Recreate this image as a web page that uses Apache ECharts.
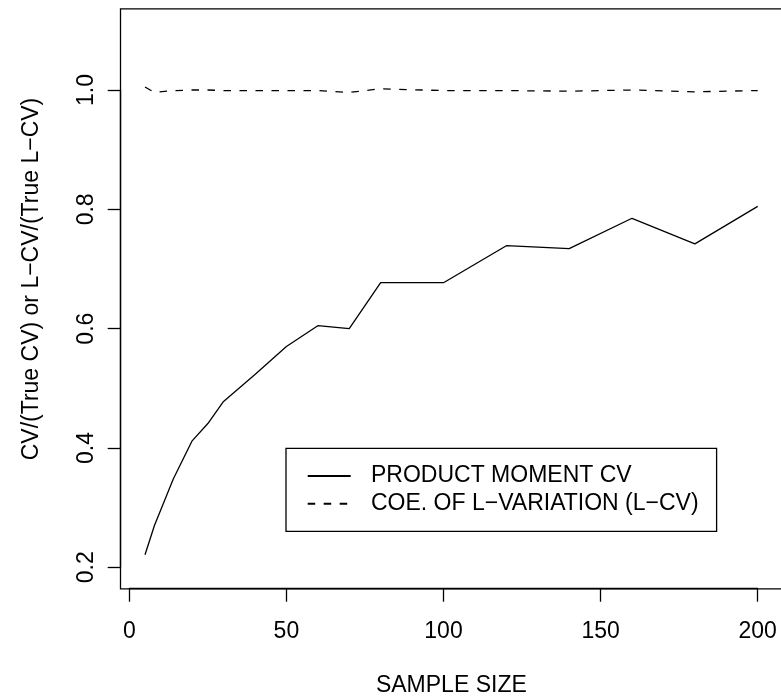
<!DOCTYPE html>
<html>
<head>
<meta charset="utf-8">
<script src="https://cdn.jsdelivr.net/npm/echarts@6/dist/echarts.min.js"></script>
<style>
  html, body { margin: 0; padding: 0; background: #ffffff; }
  #chart { width: 781px; height: 696px; }
</style>
</head>
<body>
<div id="chart"></div>
<script>
// Sample sizes used in the simulation
const sampleSize = [5, 8, 14, 20, 25, 30, 40, 50, 60, 70, 80, 100, 120, 140, 160, 180, 200];
// Mean sample CV divided by the true CV
const productMomentCV = [0.221, 0.270, 0.348, 0.412, 0.441, 0.478, 0.523, 0.570, 0.605, 0.600, 0.677, 0.677, 0.739, 0.734, 0.785, 0.742, 0.805];
// Mean sample L-CV divided by the true L-CV
const lcvRatio = [1.005, 0.996, 0.999, 1.000, 1.000, 0.999, 0.999, 0.999, 0.999, 0.996, 1.002, 0.999, 0.999, 0.998, 1.000, 0.997, 0.999];

const xTicks = [0, 50, 100, 150, 200];
const yTicks = [0.2, 0.4, 0.6, 0.8, 1.0];
const seriesNames = ['PRODUCT MOMENT CV', 'COE. OF L\u2212VARIATION (L\u2212CV)'];
const xTitle = 'SAMPLE SIZE';
const yTitle = 'CV/(True CV) or L\u2212CV/(True L\u2212CV)';
// Plot frame limits (data units), slightly wider than the tick range
const xLimits = [-2.8, 207.8];
const yLimits = [0.164, 1.136];

const FONT = "'Liberation Sans', Arial, Helvetica, sans-serif";
const FS = 23;
const LW = 1.3;

const chart = echarts.init(document.getElementById('chart'), null, { renderer: 'canvas' });

const toPairs = (xs, ys) => xs.map((x, i) => [x, ys[i]]);

chart.setOption({
  backgroundColor: '#ffffff',
  animation: false,
  textStyle: { fontFamily: FONT },
  grid: { left: 129.3, top: 90, width: 628.4, height: 477.3, containLabel: false },
  xAxis: {
    type: 'value',
    min: xTicks[0],
    max: xTicks[xTicks.length - 1],
    interval: xTicks[1] - xTicks[0],
    offset: 21.4,
    splitLine: { show: false },
    axisLine: { show: true, onZero: false, lineStyle: { color: '#000', width: LW } },
    axisTick: { show: true, length: 13, lineStyle: { color: '#000', width: LW } },
    axisLabel: {
      color: '#000', fontSize: FS, fontFamily: FONT, margin: 31.5, lineHeight: FS,
      formatter: v => String(v)
    }
  },
  yAxis: {
    type: 'value',
    min: yTicks[0],
    max: yTicks[yTicks.length - 1],
    interval: 0.2,
    offset: 8.6,
    splitLine: { show: false },
    axisLine: { show: true, onZero: false, lineStyle: { color: '#000', width: LW } },
    axisTick: { show: true, length: 13, lineStyle: { color: '#000', width: LW } },
    axisLabel: {
      color: '#000', fontSize: FS, fontFamily: FONT, rotate: 90, margin: 34,
      align: 'center', verticalAlign: 'middle', lineHeight: FS,
      formatter: v => v.toFixed(1)
    }
  },
  legend: {
    orient: 'vertical',
    left: 286,
    top: 448.3,
    itemWidth: 43,
    itemHeight: 14,
    itemGap: 0,
    padding: [13.85, 18, 13.75, 20.7],
    borderColor: '#000',
    borderWidth: LW,
    borderRadius: 0,
    backgroundColor: '#fff',
    itemStyle: { opacity: 0 },
    textStyle: { color: '#000', fontSize: FS, fontFamily: FONT, lineHeight: 27.7, padding: [0, 0, 0, 15.3] },
    data: seriesNames
  },
  series: [
    {
      name: seriesNames[0],
      type: 'line',
      data: toPairs(sampleSize, productMomentCV),
      symbol: 'none',
      clip: false,
      lineStyle: { color: '#000', width: LW, type: 'solid' },
      itemStyle: { color: '#000' }
    },
    {
      name: seriesNames[1],
      type: 'line',
      data: toPairs(sampleSize, lcvRatio),
      symbol: 'none',
      clip: false,
      lineStyle: { color: '#000', width: LW, type: [7.5, 8.5] },
      itemStyle: { color: '#000' }
    }
  ]
});

// Frame around the plotting region, placed from the axis scales
const p0 = chart.convertToPixel({ gridIndex: 0 }, [xLimits[0], yLimits[1]]);
const p1 = chart.convertToPixel({ gridIndex: 0 }, [xLimits[1], yLimits[0]]);

chart.setOption({
  graphic: [
    {
      type: 'rect',
      z: 100,
      silent: true,
      shape: { x: p0[0], y: p0[1], width: p1[0] - p0[0], height: p1[1] - p0[1] },
      style: { fill: 'none', stroke: '#000', lineWidth: LW }
    },
    {
      type: 'text',
      x: (p0[0] + p1[0]) / 2,
      y: 686,
      style: { text: xTitle, font: FS + 'px ' + FONT, fill: '#000', align: 'center', verticalAlign: 'middle' }
    },
    {
      type: 'text',
      x: 32,
      y: 279,
      rotation: Math.PI / 2,
      style: { text: yTitle, font: FS + 'px ' + FONT, fill: '#000', align: 'center', verticalAlign: 'middle' }
    }
  ]
});
</script>
</body>
</html>
